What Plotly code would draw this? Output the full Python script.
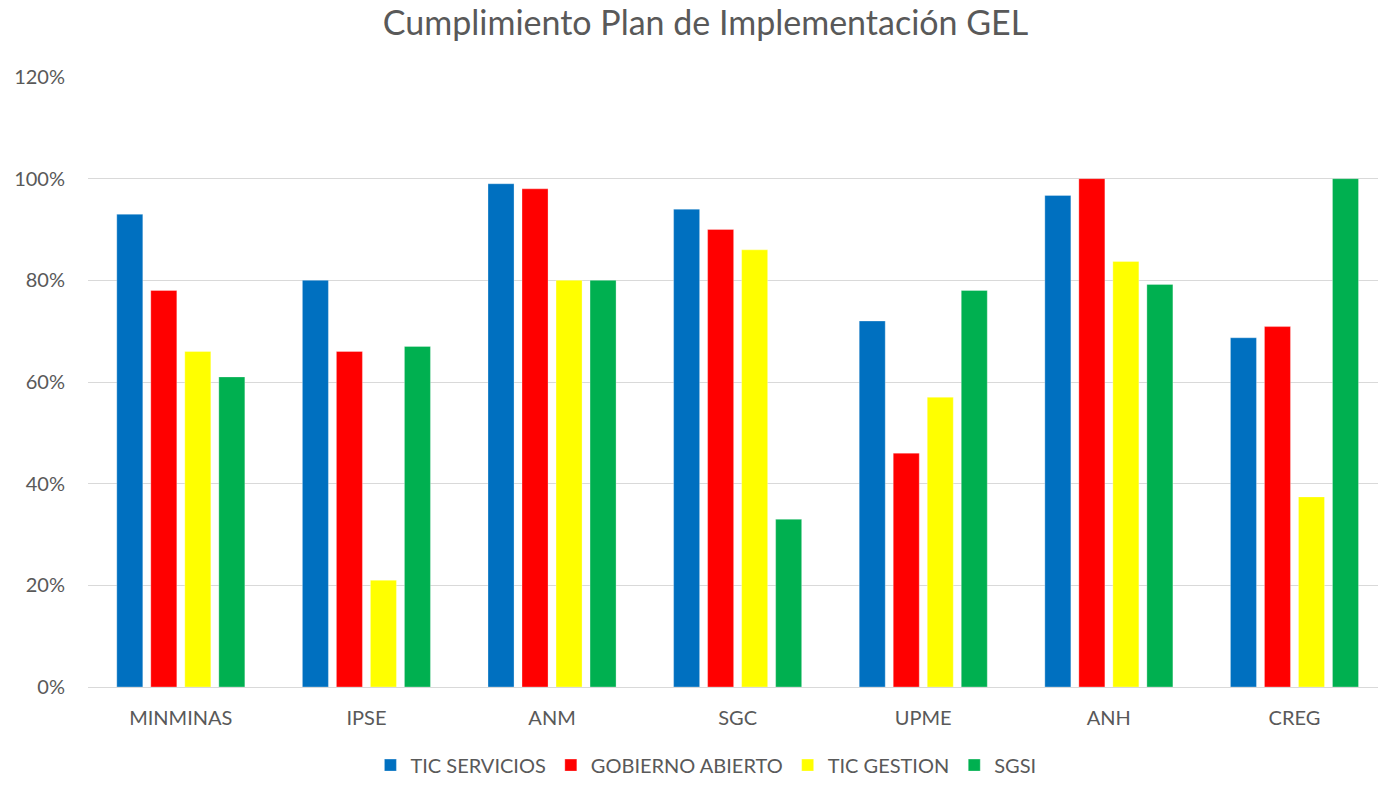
import plotly.graph_objects as go

categories = ["MINMINAS", "IPSE", "ANM", "SGC", "UPME", "ANH", "CREG"]
tic_servicios = [0.93, 0.80, 0.99, 0.94, 0.72, 0.967, 0.687]
gobierno_abierto = [0.78, 0.66, 0.98, 0.90, 0.46, 1.00, 0.709]
tic_gestion = [0.66, 0.21, 0.80, 0.86, 0.57, 0.837, 0.374]
sgsi = [0.61, 0.67, 0.80, 0.33, 0.78, 0.792, 1.00]

series = [
    ("TIC SERVICIOS", tic_servicios, "#0070C0"),
    ("GOBIERNO ABIERTO", gobierno_abierto, "#FF0000"),
    ("TIC GESTION", tic_gestion, "#FFFF00"),
    ("SGSI", sgsi, "#00B050"),
]

FONT = "Lato"
GRAY = "#595959"

fig = go.Figure()
for name, vals, color in series:
    fig.add_trace(go.Bar(
        x=categories, y=vals, name=name,
        marker=dict(color=color, line=dict(color="rgba(255,255,255,0.6)", width=0.5)),
    ))

fig.update_layout(
    width=1378, height=785,
    paper_bgcolor="white", plot_bgcolor="white",
    margin=dict(l=88, r=0, t=77, b=98),
    barmode="group", bargap=0.267, bargroupgap=0.235,
    title=dict(text="Cumplimiento Plan de Implementación GEL", x=0.512, xanchor="center",
               xref="container", y=1 - 23 / 785, yref="container", yanchor="middle",
               font=dict(family=FONT, size=34, color=GRAY)),
    font=dict(family=FONT, color=GRAY, size=20),
    legend=dict(orientation="h", x=0.479, xanchor="center", y=-0.128, yanchor="middle",
                font=dict(family=FONT, size=20, color=GRAY), itemwidth=30,
                traceorder="normal"),
    xaxis=dict(range=[-0.5, 6.45], showgrid=False, showline=True, linecolor="#D9D9D9",
               linewidth=1, ticks="", tickfont=dict(size=20, color=GRAY), ticklabelstandoff=13),
    yaxis=dict(range=[0, 1.2], dtick=0.2, tickformat=".0%", showgrid=True,
               gridcolor="#D9D9D9", gridwidth=1, zeroline=False, showline=False,
               tickfont=dict(size=20, color=GRAY), ticklabelstandoff=22),
)

fig.write_html("out.html", config={"displayModeBar": False},
               post_script="document.body.style.margin='0px';document.body.style.overflow='hidden';")
